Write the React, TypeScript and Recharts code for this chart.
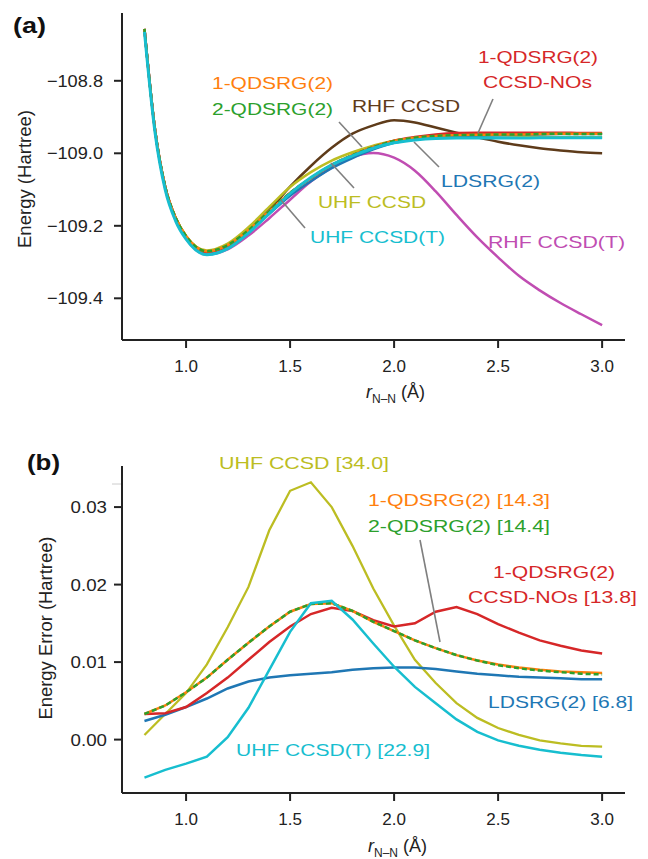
import { Line, LineChart, XAxis, YAxis } from 'recharts';

// bond lengths (Angstrom)
const rA = [0.8, 0.85, 0.9, 0.95, 1.0, 1.1, 1.2, 1.3, 1.4, 1.5, 1.6, 1.7, 1.8, 1.9, 2.0, 2.1, 2.2, 2.3, 2.4, 2.5, 2.6, 2.7, 2.8, 2.9, 3.0];
const rB = [0.8, 0.9, 1.0, 1.1, 1.2, 1.3, 1.4, 1.5, 1.6, 1.7, 1.8, 1.9, 2.0, 2.1, 2.2, 2.3, 2.4, 2.5, 2.6, 2.7, 2.8, 2.9, 3.0];

// (a) total energies (Hartree)
const rhfCcsdE = [-108.657, -108.932, -109.093, -109.179, -109.23, -109.272, -109.255, -109.213, -109.157, -109.092, -109.035, -108.985, -108.946, -108.923, -108.909, -108.915, -108.929, -108.943, -108.956, -108.968, -108.978, -108.986, -108.992, -108.997, -109.0];
const rhfCcsdtE = [-108.658, -108.934, -109.097, -109.184, -109.235, -109.279, -109.265, -109.227, -109.179, -109.128, -109.078, -109.04, -109.01, -108.999, -109.012, -109.048, -109.105, -109.17, -109.232, -109.287, -109.338, -109.378, -109.413, -109.444, -109.474];
const uhfCcsdE = [-108.659, -108.933, -109.094, -109.178, -109.228, -109.268, -109.249, -109.204, -109.148, -109.093, -109.052, -109.02, -108.997, -108.979, -108.965, -108.96, -108.957, -108.956, -108.956, -108.957, -108.956, -108.956, -108.956, -108.956, -108.956];
const uhfCcsdtE = [-108.665, -108.939, -109.101, -109.187, -109.237, -109.28, -109.263, -109.22, -109.166, -109.111, -109.067, -109.032, -109.007, -108.986, -108.971, -108.963, -108.959, -108.958, -108.958, -108.958, -108.958, -108.957, -108.957, -108.957, -108.957];
const ldsrgE = [-108.658, -108.932, -109.094, -109.179, -109.23, -109.273, -109.256, -109.217, -109.167, -109.117, -109.077, -109.041, -109.013, -108.989, -108.971, -108.961, -108.955, -108.952, -108.951, -108.95, -108.949, -108.948, -108.947, -108.947, -108.947];
const qdsrg1E = [-108.657, -108.931, -109.093, -109.178, -109.228, -109.27, -109.253, -109.212, -109.16, -109.109, -109.068, -109.032, -109.005, -108.983, -108.966, -108.957, -108.952, -108.95, -108.949, -108.948, -108.948, -108.947, -108.946, -108.946, -108.946];
const qdsrg2E = [-108.657, -108.931, -109.093, -109.178, -109.228, -109.27, -109.253, -109.212, -109.16, -109.109, -109.068, -109.032, -109.005, -108.983, -108.966, -108.957, -108.952, -108.95, -108.949, -108.948, -108.948, -108.947, -108.946, -108.947, -108.947];
const qdsrgNoE = [-108.657, -108.932, -109.094, -109.179, -109.23, -109.272, -109.255, -109.214, -109.162, -109.11, -109.069, -109.033, -109.005, -108.983, -108.965, -108.955, -108.948, -108.944, -108.943, -108.943, -108.943, -108.943, -108.943, -108.944, -108.944];

// (b) energy errors (Hartree)
const uhfCcsdErr = [0.0006, 0.0033, 0.006, 0.0097, 0.0145, 0.0197, 0.027, 0.0321, 0.0332, 0.03, 0.025, 0.0195, 0.0147, 0.0103, 0.0073, 0.0047, 0.0028, 0.0015, 0.0006, -0.0001, -0.0005, -0.0008, -0.0009];
const uhfCcsdtErr = [-0.0049, -0.0039, -0.0031, -0.0022, 0.0003, 0.0041, 0.009, 0.0139, 0.0176, 0.0179, 0.0155, 0.0124, 0.0094, 0.0068, 0.0047, 0.0026, 0.001, -0.0001, -0.0008, -0.0013, -0.0017, -0.002, -0.0022];
const ldsrgErr = [0.0024, 0.0032, 0.0042, 0.0053, 0.0066, 0.0075, 0.008, 0.0083, 0.0085, 0.0087, 0.009, 0.0092, 0.0093, 0.0093, 0.0091, 0.0088, 0.0085, 0.0083, 0.0081, 0.008, 0.0079, 0.0078, 0.0078];
const qdsrg1Err = [0.0033, 0.0044, 0.0061, 0.008, 0.0103, 0.0125, 0.0146, 0.0165, 0.0175, 0.0176, 0.0166, 0.0152, 0.014, 0.0128, 0.0118, 0.0109, 0.0102, 0.0097, 0.0093, 0.009, 0.0088, 0.0087, 0.0086];
const qdsrg2Err = [0.0033, 0.0044, 0.0061, 0.008, 0.0103, 0.0125, 0.0146, 0.0165, 0.0175, 0.0176, 0.0166, 0.0152, 0.014, 0.0128, 0.0118, 0.0109, 0.0102, 0.0096, 0.0092, 0.0089, 0.0087, 0.0085, 0.0084];
const qdsrgNoErr = [0.0033, 0.0034, 0.0042, 0.006, 0.008, 0.0103, 0.0126, 0.0146, 0.0162, 0.017, 0.0166, 0.0154, 0.0146, 0.015, 0.0165, 0.0171, 0.0162, 0.0149, 0.0138, 0.0128, 0.0121, 0.0115, 0.0111];

const xTicks = [1.0, 1.5, 2.0, 2.5, 3.0];
const yTicksA = [-109.4, -109.2, -109.0, -108.8];
const yTicksB = [0.0, 0.01, 0.02, 0.03];

const dataA = rA.map((r, i) => ({
  r,
  rhfCcsd: rhfCcsdE[i],
  rhfCcsdt: rhfCcsdtE[i],
  uhfCcsd: uhfCcsdE[i],
  uhfCcsdt: uhfCcsdtE[i],
  ldsrg: ldsrgE[i],
  qdsrg1: qdsrg1E[i],
  qdsrg2: qdsrg2E[i],
  qdsrgNo: qdsrgNoE[i],
}));

const dataB = rB.map((r, i) => ({
  r,
  uhfCcsd: uhfCcsdErr[i],
  uhfCcsdt: uhfCcsdtErr[i],
  ldsrg: ldsrgErr[i],
  qdsrg1: qdsrg1Err[i],
  qdsrg2: qdsrg2Err[i],
  qdsrgNo: qdsrgNoErr[i],
}));

const C = {
  brown: '#5e3b1a',
  magenta: '#c04db2',
  olive: '#bcbd22',
  cyan: '#17becf',
  blue: '#1f77b4',
  orange: '#ff7f0e',
  green: '#2ca02c',
  red: '#d62728',
  gray: '#7f7f7f',
  ink: '#222222',
};
const FONT = '"Liberation Sans", Arial, Helvetica, sans-serif';

const XTick = (props: any) => {
  const { x, y, payload } = props;
  return (
    <text x={x} y={y} dy='0.71em' textAnchor='middle' fill={C.ink} fontSize={17} fontFamily={FONT}>
      {payload.value.toFixed(1)}
    </text>
  );
};

const YTickA = (props: any) => {
  const { x, y, payload } = props;
  return (
    <text transform={`translate(${x},${y}) scale(1.07,1)`} dy='0.36em' textAnchor='end' fill={C.ink} fontSize={17} fontFamily={FONT}>
      {'\u2212' + Math.abs(payload.value).toFixed(1)}
    </text>
  );
};

const YTickB = (props: any) => {
  const { x, y, payload } = props;
  return (
    <text transform={`translate(${x},${y}) scale(1.1,1)`} dy='0.36em' textAnchor='end' fill={C.ink} fontSize={17} fontFamily={FONT}>
      {payload.value.toFixed(2)}
    </text>
  );
};

const axisStyle = { stroke: C.ink, strokeWidth: 2 };

function Note({ x, y, w, color, text }: { x: number; y: number; w: number; color: string; text: string }) {
  return (
    <text x={x} y={y} fill={color} fontSize={17} fontFamily={FONT} dominantBaseline='central' textLength={w} lengthAdjust='spacingAndGlyphs'>
      {text}
    </text>
  );
}

function XLabel({ x, y }: { x: number; y: number }) {
  return (
    <text x={x} y={y} fill={C.ink} fontSize={18} fontFamily={FONT}>
      <tspan fontStyle='italic'>r</tspan>
      <tspan fontSize={12} dy={5}>N–N</tspan>
      <tspan dy={-5}> (Å)</tspan>
    </text>
  );
}

function Lead({ x1, y1, x2, y2 }: { x1: number; y1: number; x2: number; y2: number }) {
  return <line x1={x1} y1={y1} x2={x2} y2={y2} stroke={C.gray} strokeWidth={1.6} />;
}

export default function App() {
  return (
    <div style={{ position: 'absolute', left: 0, top: 0, width: 648, height: 859, background: '#fff' }}>
      <div style={{ position: 'absolute', left: 0, top: 0 }}>
        <LineChart width={648} height={430} data={dataA} margin={{ top: 13, right: 23, bottom: 60, left: 62 }}>
          <XAxis
            dataKey='r'
            type='number'
            domain={[0.692, 3.11]}
            ticks={xTicks}
            interval={0}
            height={30}
            tickSize={8}
            tickMargin={12}
            axisLine={axisStyle}
            tickLine={axisStyle}
            tick={<XTick />}
          />
          <YAxis
            type='number'
            domain={[-109.515, -108.613]}
            ticks={yTicksA}
            interval={0}
            width={60}
            tickSize={8}
            tickMargin={11}
            axisLine={axisStyle}
            tickLine={axisStyle}
            tick={<YTickA />}
          />
          <Line dataKey='rhfCcsd' type='monotone' stroke={C.brown} strokeWidth={2.5} dot={false} isAnimationActive={false} />
          <Line dataKey='rhfCcsdt' type='monotone' stroke={C.magenta} strokeWidth={2.5} dot={false} isAnimationActive={false} />
          <Line dataKey='uhfCcsd' type='monotone' stroke={C.olive} strokeWidth={2.5} dot={false} isAnimationActive={false} />
          <Line dataKey='ldsrg' type='monotone' stroke={C.blue} strokeWidth={2.5} dot={false} isAnimationActive={false} />
          <Line dataKey='qdsrgNo' type='monotone' stroke={C.red} strokeWidth={2.5} dot={false} isAnimationActive={false} />
          <Line dataKey='qdsrg1' type='monotone' stroke={C.orange} strokeWidth={2.5} dot={false} isAnimationActive={false} />
          <Line dataKey='qdsrg2' type='monotone' stroke={C.green} strokeWidth={2.5} strokeDasharray='5 3' dot={false} isAnimationActive={false} />
          <Line dataKey='uhfCcsdt' type='monotone' stroke={C.cyan} strokeWidth={3} dot={false} isAnimationActive={false} />
        </LineChart>
      </div>
      <div style={{ position: 'absolute', left: 0, top: 430 }}>
        <LineChart width={648} height={429} data={dataB} margin={{ top: 36, right: 23, bottom: 36, left: 62 }}>
          <XAxis
            dataKey='r'
            type='number'
            domain={[0.692, 3.11]}
            ticks={xTicks}
            interval={0}
            height={30}
            tickSize={8}
            tickMargin={12}
            axisLine={axisStyle}
            tickLine={axisStyle}
            tick={<XTick />}
          />
          <YAxis
            type='number'
            domain={[-0.00689, 0.0353]}
            ticks={yTicksB}
            interval={0}
            width={60}
            tickSize={8}
            tickMargin={7}
            axisLine={axisStyle}
            tickLine={axisStyle}
            tick={<YTickB />}
          />
          <Line dataKey='uhfCcsd' type='linear' stroke={C.olive} strokeWidth={2.3} dot={false} isAnimationActive={false} />
          <Line dataKey='ldsrg' type='linear' stroke={C.blue} strokeWidth={2.5} dot={false} isAnimationActive={false} />
          <Line dataKey='qdsrgNo' type='linear' stroke={C.red} strokeWidth={2.5} dot={false} isAnimationActive={false} />
          <Line dataKey='qdsrg1' type='linear' stroke={C.orange} strokeWidth={2.5} dot={false} isAnimationActive={false} />
          <Line dataKey='qdsrg2' type='linear' stroke={C.green} strokeWidth={2.5} strokeDasharray='5 3' dot={false} isAnimationActive={false} />
          <Line dataKey='uhfCcsdt' type='linear' stroke={C.cyan} strokeWidth={2.5} dot={false} isAnimationActive={false} />
        </LineChart>
      </div>
      <svg width={648} height={859} style={{ position: 'absolute', left: 0, top: 0, pointerEvents: 'none' }}>
        {/* panel (a) */}
        <text x={13} y={25} fontSize={22} fontWeight='bold' fontFamily={FONT} fill='#111' dominantBaseline='central' textLength={33} lengthAdjust='spacingAndGlyphs'>(a)</text>
        <text transform='translate(25,179) rotate(-90)' textAnchor='middle' dominantBaseline='central' fontSize={18} fontFamily={FONT} fill={C.ink} textLength={138} lengthAdjust='spacingAndGlyphs'>Energy (Hartree)</text>
        <XLabel x={366} y={398} />
        <Note x={212} y={83} w={121} color={C.orange} text='1-QDSRG(2)' />
        <Note x={212} y={109} w={121} color={C.green} text='2-QDSRG(2)' />
        <Note x={352} y={106} w={108} color={C.brown} text='RHF CCSD' />
        <Note x={478} y={57} w={120} color={C.red} text='1-QDSRG(2)' />
        <Note x={483} y={82} w={109} color={C.red} text='CCSD-NOs' />
        <Note x={441} y={181} w={99} color={C.blue} text='LDSRG(2)' />
        <Note x={318} y={202} w={108} color={C.olive} text='UHF CCSD' />
        <Note x={310} y={237} w={135} color={C.cyan} text='UHF CCSD(T)' />
        <Note x={488} y={242} w={137} color={C.magenta} text='RHF CCSD(T)' />
        <Lead x1={339} y1={122} x2={362} y2={147} />
        <Lead x1={493} y1={99} x2={478} y2={133} />
        <Lead x1={439} y1={167} x2={414} y2={142} />
        <Lead x1={354} y1={188} x2={331} y2={163} />
        <Lead x1={305} y1={228} x2={281} y2={200} />

        {/* panel (b) */}
        <text x={27} y={462} fontSize={22} fontWeight='bold' fontFamily={FONT} fill='#111' dominantBaseline='central' textLength={33} lengthAdjust='spacingAndGlyphs'>(b)</text>
        <text transform='translate(46,628) rotate(-90)' textAnchor='middle' dominantBaseline='central' fontSize={18} fontFamily={FONT} fill={C.ink} textLength={183} lengthAdjust='spacingAndGlyphs'>Energy Error (Hartree)</text>
        <XLabel x={368} y={852} />
        <line x1={112} y1={484} x2={121} y2={484} stroke='#cccccc' strokeWidth={1} />
        <Note x={219} y={463} w={170} color={C.olive} text='UHF CCSD [34.0]' />
        <Note x={368} y={500} w={182} color={C.orange} text='1-QDSRG(2) [14.3]' />
        <Note x={368} y={526} w={182} color={C.green} text='2-QDSRG(2) [14.4]' />
        <Note x={493} y={572} w={122} color={C.red} text='1-QDSRG(2)' />
        <Note x={468} y={597} w={169} color={C.red} text='CCSD-NOs [13.8]' />
        <Note x={488} y={702} w={145} color={C.blue} text='LDSRG(2) [6.8]' />
        <Note x={236} y={750} w={194} color={C.cyan} text='UHF CCSD(T) [22.9]' />
        <Lead x1={420} y1={540} x2={440} y2={642} />
      </svg>
    </div>
  );
}
